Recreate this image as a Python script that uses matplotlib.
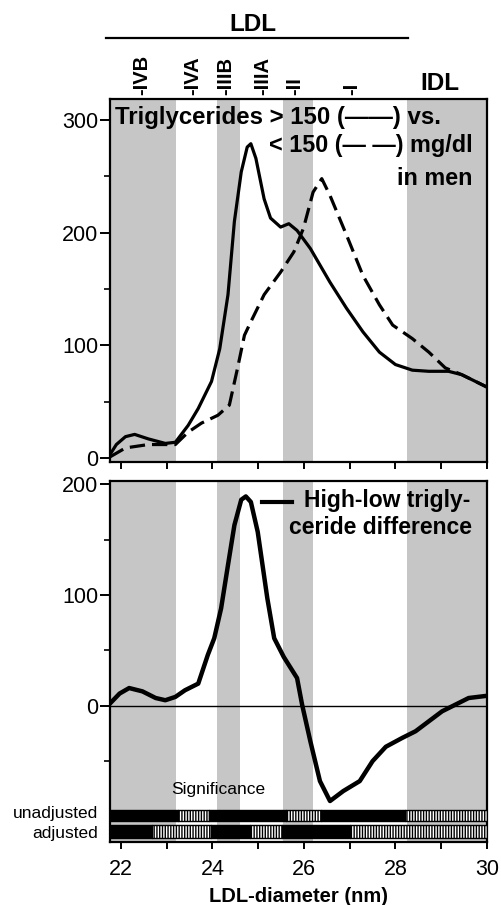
import matplotlib
matplotlib.use("Agg")
import matplotlib.pyplot as plt
import matplotlib.transforms as mtransforms
from matplotlib.lines import Line2D

plt.rcParams['font.family'] = ['Liberation Sans', 'DejaVu Sans']
plt.rcParams['hatch.linewidth'] = 1.0

# high triglyceride curve (solid)
x_high = [21.76, 21.9, 22.1, 22.3, 22.6, 22.97, 23.19, 23.47, 23.69, 23.98, 24.16,
          24.34, 24.48, 24.63, 24.76, 24.84, 24.95, 25.13, 25.27, 25.49, 25.67,
          25.85, 26.14, 26.57, 26.93, 27.29, 27.65, 28.0, 28.37, 28.73, 29.16,
          29.45, 30.0]
tg_high = [3, 12, 19, 21, 17, 13, 14, 29, 44, 68, 97,
           145, 210, 254, 276, 279, 266, 230, 213, 205, 208,
           202, 186, 156, 133, 112, 94, 83, 78, 77, 77,
           74, 63]

# low triglyceride curve (dashed)
x_low = [21.76, 22.1, 22.6, 22.97, 23.19, 23.47, 23.76, 24.12, 24.37, 24.55, 24.7,
         24.84, 25.13, 25.49, 25.78, 25.99, 26.2, 26.39, 26.57, 26.93, 27.29,
         27.65, 27.94, 28.37, 28.73, 29.09, 29.45, 30.0]
tg_low = [1, 9, 12, 12, 12, 23, 31, 38, 47, 80, 109,
          121, 145, 165, 183, 204, 236, 248, 233, 198, 162,
          136, 118, 106, 94, 80, 74, 63]

# high-low difference
x_diff = [21.76, 21.97, 22.18, 22.47, 22.76, 22.97, 23.19, 23.4, 23.69, 23.9, 24.04,
          24.19, 24.34, 24.48, 24.63, 24.73, 24.84, 24.99, 25.2, 25.35, 25.56,
          25.85, 25.96, 26.14, 26.35, 26.57, 26.86, 27.22, 27.5, 27.79, 28.15,
          28.44, 28.73, 29.02, 29.31, 29.6, 30.0]
diff = [2, 11, 16, 13, 7, 5, 8, 14, 20, 46, 61,
        88, 127, 163, 186, 189, 184, 157, 97, 61, 44,
        25, 1, -32, -68, -86, -77, -68, -50, -37, -29,
        -23, -14, -5, 1, 7, 9]

# shaded subclass bands
bands = [(21.76, 23.2), (24.1, 24.6), (25.55, 26.2), (28.25, 30.0)]

# subclass labels on top
sub_labels = ['-IVB', '-IVA', '-IIIB', '-IIIA', '-II', '-I']
sub_pos = [22.45, 23.57, 24.3, 25.1, 25.8, 27.05]

# significance bars: (start, end, significant?)
unadjusted = [(21.76, 23.25, True), (23.25, 23.92, False), (23.92, 25.6, True),
              (25.6, 26.37, False), (26.37, 28.2, True), (28.2, 30.0, False)]
adjusted = [(21.76, 22.68, True), (22.68, 23.97, False), (23.97, 24.82, True),
            (24.82, 25.52, False), (25.52, 27.0, True), (27.0, 30.0, False)]

gray = '#c6c6c6'

fig = plt.figure(figsize=(5.02, 9.05), dpi=100)
ax1 = fig.add_axes([0.219, 0.4895, 0.751, 0.401])
ax2 = fig.add_axes([0.219, 0.0696, 0.751, 0.399])

for ax in (ax1, ax2):
    for a, b in bands:
        ax.axvspan(a, b, color=gray, lw=0, zorder=0)
    ax.set_xlim(21.76, 30.0)
    for s in ax.spines.values():
        s.set_linewidth(1.6)
    ax.tick_params(direction='out', width=1.4, length=5, labelsize=15.5, pad=2)
    ax.tick_params(axis='y', length=7, pad=1.5)
    ax.tick_params(which='minor', direction='out', width=1.2, length=4.5)
    ax.set_xticks(range(22, 31))

# top panel
ax1.plot(x_high, tg_high, color='black', lw=2.3, solid_joinstyle='round', zorder=3)
ax1.plot(x_low, tg_low, color='black', lw=2.3, linestyle=(0, (4.8, 2.2)), zorder=3)
ax1.set_ylim(-3.5, 318.6)
ax1.set_yticks([0, 100, 200, 300])
ax1.set_yticks([50, 150, 250], minor=True)
ax1.set_xticklabels([])

ax1.text(21.87, 302, 'Triglycerides > 150 (\u2014\u2014) vs.', fontsize=17.3,
         fontweight='bold', ha='left', va='center')
ax1.text(29.69, 277, '< 150 (\u2014 \u2014) mg/dl', fontsize=16.8,
         fontweight='bold', ha='right', va='center')
ax1.text(29.69, 248, 'in men', fontsize=16.8, fontweight='bold', ha='right', va='center')

trans = mtransforms.blended_transform_factory(ax1.transData, ax1.transAxes)
for lab, pos in zip(sub_labels, sub_pos):
    ax1.text(pos, 1.012, lab, rotation=90, transform=trans, ha='center', va='bottom',
             fontsize=14.5, fontweight='bold')
ax1.text(28.97, 1.012, 'IDL', transform=trans, ha='center', va='bottom',
         fontsize=17.5, fontweight='bold')
ax1.text(24.89, 1.205, 'LDL', transform=trans, ha='center', va='center',
         fontsize=17.5, fontweight='bold')
ax1.add_line(Line2D([21.67, 28.27], [1.168, 1.168], transform=trans, color='black',
                    lw=1.6, clip_on=False))

# bottom panel
ax2.axhline(0, color='black', lw=1.0, zorder=2)
ax2.plot(x_diff, diff, color='black', lw=3.2, solid_joinstyle='round', zorder=3)
ax2.set_ylim(-123, 203)
ax2.set_yticks([0, 100, 200])
ax2.set_yticks([-50, 50, 150], minor=True)
ax2.set_xticklabels(['22', '', '24', '', '26', '', '28', '', '30'])
ax2.tick_params(axis='x', pad=7)
ax2.set_xlabel('LDL-diameter (nm)', fontsize=14.5, fontweight='bold', labelpad=5)

ax2.plot([25.08, 25.74], [184, 184], color='black', lw=3, zorder=3)
ax2.text(29.63, 185, 'High-low trigly-', fontsize=16.5, fontweight='bold',
         ha='right', va='center')
ax2.text(29.67, 161, 'ceride difference', fontsize=16.5, fontweight='bold',
         ha='right', va='center')
ax2.text(23.1, -76, 'Significance', fontsize=12.5, ha='left', va='center')

for segs, y0, h in ((unadjusted, -104, 10), (adjusted, -119.5, 11.5)):
    for a, b, sig in segs:
        if sig:
            ax2.broken_barh([(a, b - a)], (y0, h), facecolors='black',
                            edgecolor='black', lw=1, zorder=4)
        else:
            ax2.broken_barh([(a, b - a)], (y0, h), facecolors='white',
                            edgecolor='black', hatch='||||||', lw=1, zorder=4)

fig.text(0.195, 1 - 813 / 905, 'unadjusted', fontsize=12.5, ha='right', va='center')
fig.text(0.195, 1 - 833 / 905, 'adjusted', fontsize=12.5, ha='right', va='center')

fig.savefig('out.png', dpi=100)
